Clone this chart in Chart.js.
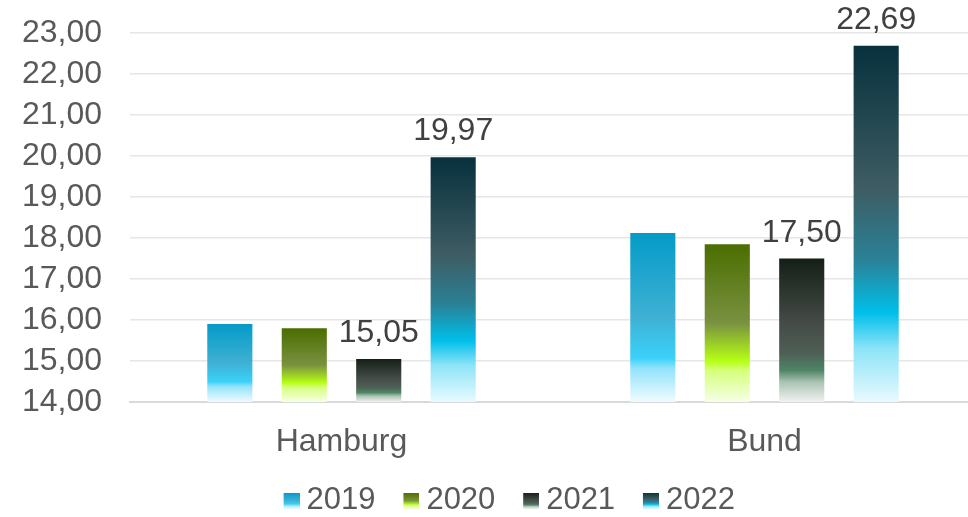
<!DOCTYPE html>
<html lang="de">
<head>
<meta charset="utf-8">
<title>Vergleich Hamburg / Bund 2019–2022</title>
<script src="https://cdn.jsdelivr.net/npm/chart.js@4/dist/chart.umd.min.js"></script>
<style>
  html, body { margin: 0; padding: 0; background: #ffffff; overflow: hidden; }
  #wrap { position: relative; width: 976px; height: 517px; }
</style>
</head>
<body>
<div id="wrap"><canvas id="chart"></canvas></div>
<script>
// Categories and yearly series
const categories = ['Hamburg', 'Bund'];
const years = ['2019', '2020', '2021', '2022'];
const values2019 = [15.90, 18.12];
const values2020 = [15.80, 17.85];
const values2021 = [15.05, 17.50];
const values2022 = [19.97, 22.69];
// Series whose values are printed above the bars
const labelledYears = ['2021', '2022'];

// Value axis range
const yMin = 14;
const yMax = 23;
const yStep = 1;

// Vertical colour ramps for each year (top -> bottom of a bar)
const ramps = {
  '2019': [[0, '#049bc7'], [0.5, '#3fb1d4'], [0.74, '#3ad1fa'], [0.8, '#92e3fa'], [1, '#f0fbff']],
  '2020': [[0, '#4a6e00'], [0.5, '#7a9140'], [0.74, '#b6ff14'], [0.8, '#d6ff7c'], [1, '#f6ffe6']],
  '2021': [[0, '#141f17'], [0.45, '#454b47'], [0.66, '#4e5f56'], [0.78, '#4f8566'], [0.86, '#a9c3b2'], [1, '#f2f2f2']],
  '2022': [[0, '#07313d'], [0.4, '#3e5c63'], [0.6, '#2a8196'], [0.75, '#00bfea'], [0.85, '#8de4f7'], [1, '#e8faff']]
};

const FONT = '"Liberation Sans", Arial, sans-serif';
const fmt = v => v.toFixed(2).replace('.', ',');

function makeGradient(ctx, year, top, bottom) {
  const g = ctx.createLinearGradient(0, top, 0, bottom);
  ramps[year].forEach(([o, c]) => g.addColorStop(o, c));
  return g;
}

// Gradient per bar, stretched over the bar's own height
function barFill(year) {
  return function (context) {
    const chart = context.chart;
    const y = chart.scales.y;
    if (!chart.chartArea || !y || context.type !== 'data') return ramps[year][0][1];
    const top = y.getPixelForValue(context.raw);
    const bottom = y.getPixelForValue(yMin);
    return makeGradient(chart.ctx, year, top, bottom);
  };
}

// Legend marker: a 16px gradient square at the right end of a transparent
// strip, so it sits just before the label text
const SWATCH_SLOT = 28;
function legendSwatch(year) {
  const c = document.createElement('canvas');
  c.width = SWATCH_SLOT + 17; c.height = 16;
  const x = c.getContext('2d');
  x.fillStyle = makeGradient(x, year, 0, 16);
  x.fillRect(c.width - 16, 0, 16, 16);
  return c;
}

const seriesValues = [values2019, values2020, values2021, values2022];
const datasets = years.map((yr, i) => ({
  label: yr,
  data: seriesValues[i],
  backgroundColor: barFill(yr),
  borderWidth: 0,
  categoryPercentage: 0.704,
  barPercentage: 0.606
}));

// Prints the values above the bars of the selected series
const valueLabels = {
  id: 'valueLabels',
  afterDatasetsDraw(chart) {
    const ctx = chart.ctx;
    ctx.save();
    ctx.font = '32px ' + FONT;
    ctx.fillStyle = '#404040';
    ctx.textAlign = 'center';
    ctx.textBaseline = 'alphabetic';
    chart.data.datasets.forEach((ds, di) => {
      if (!labelledYears.includes(ds.label)) return;
      const meta = chart.getDatasetMeta(di);
      meta.data.forEach((bar, i) => {
        ctx.fillText(fmt(ds.data[i]), bar.x, bar.y - 17);
      });
    });
    ctx.restore();
  }
};

new Chart(document.getElementById('chart'), {
  type: 'bar',
  data: { labels: categories, datasets },
  plugins: [valueLabels],
  options: {
    responsive: true,
    maintainAspectRatio: false,
    animation: false,
    events: [],
    layout: { padding: { top: 33, left: 22, right: 0, bottom: 0 } },
    scales: {
      x: {
        afterFit(scale) { scale.height = 75.7; },
        grid: { display: false, drawTicks: false },
        border: { display: true, color: '#d9d9d9', width: 2 },
        ticks: {
          color: '#595959',
          padding: 16.5,
          font: { family: FONT, size: 32, lineHeight: 1.47 }
        }
      },
      y: {
        min: yMin,
        max: yMax,
        afterFit(scale) { scale.width = 108; },
        grid: { color: '#e6e6e6', lineWidth: 1.5, drawTicks: false },
        border: { display: false },
        ticks: {
          stepSize: yStep,
          autoSkip: false,
          color: '#595959',
          padding: 28,
          font: { family: FONT, size: 32, lineHeight: 0.3 },
          callback: v => fmt(v)
        }
      }
    },
    plugins: {
      tooltip: { enabled: false },
      legend: {
        position: 'bottom',
        maxHeight: 39.3,
        labels: {
          usePointStyle: true,
          pointStyleWidth: SWATCH_SLOT,
          padding: 7.3,
          color: '#595959',
          font: { family: FONT, size: 31 },
          generateLabels(chart) {
            return chart.data.datasets.map((ds, i) => ({
              text: ds.label,
              pointStyle: legendSwatch(ds.label),
              fillStyle: 'transparent',
              strokeStyle: 'transparent',
              lineWidth: 0,
              hidden: false,
              fontColor: '#595959',
              datasetIndex: i
            }));
          }
        }
      }
    }
  }
});
</script>
</body>
</html>
